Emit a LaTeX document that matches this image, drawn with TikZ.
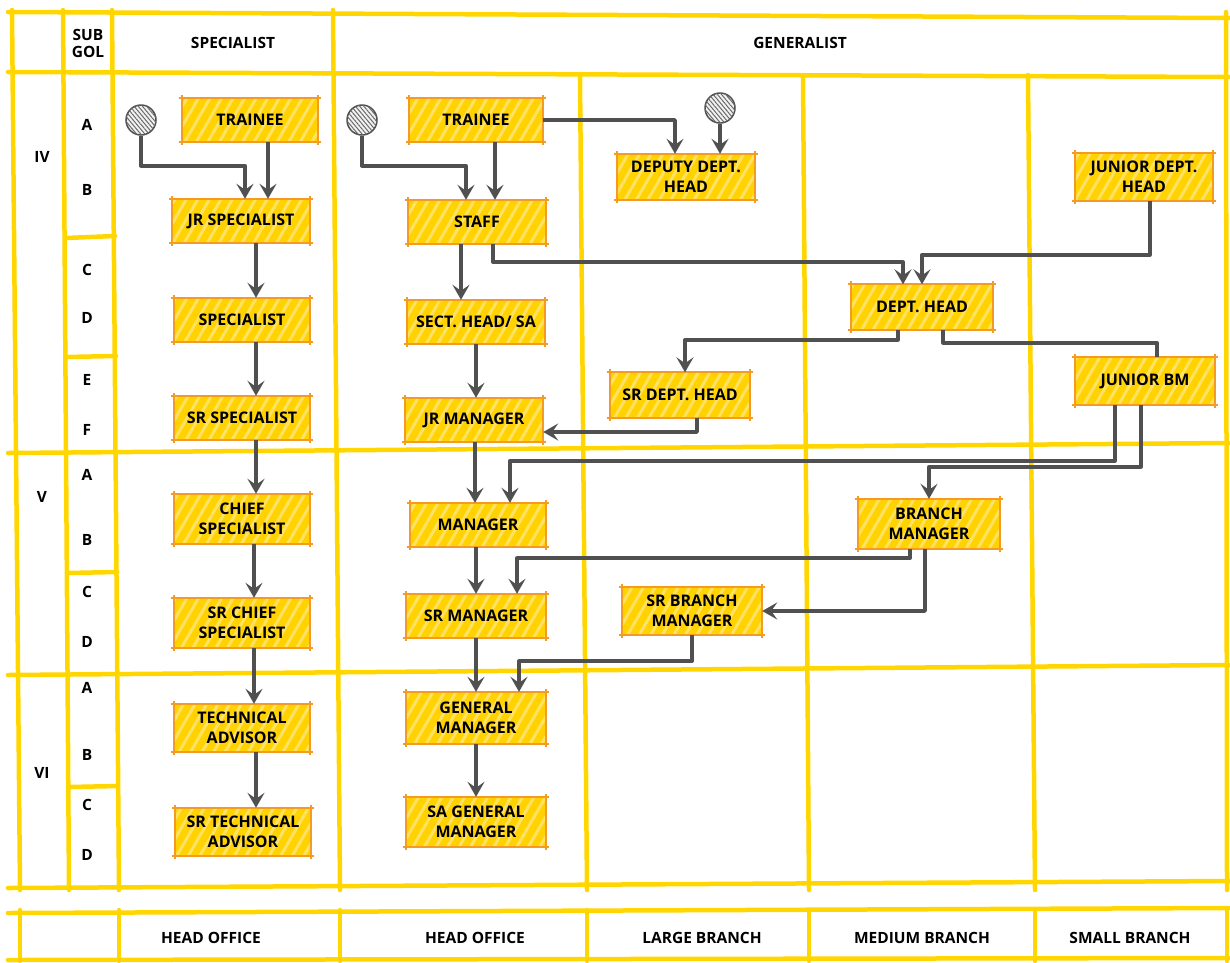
\documentclass[tikz,border=0pt]{standalone}
\usepackage{fontspec}
\setmainfont{Open Sans}
\usetikzlibrary{arrows.meta,patterns.meta}
\definecolor{gridy}{RGB}{255,214,0}
\definecolor{boxfill}{RGB}{255,210,0}
\definecolor{stripe}{RGB}{255,226,100}
\definecolor{boxline}{RGB}{245,155,35}
\definecolor{conn}{RGB}{80,80,80}
\tikzset{
  grid/.style={draw=gridy, line width=4.5pt, line cap=round},
  lbl/.style={font=\bfseries\fontsize{15.5}{19}\selectfont, align=center, text=black},
  sk/.style={draw=boxline, line width=1.8pt, shorten <=-3pt, shorten >=-3pt},
  bw/.style 2 args={minimum width=#1pt, minimum height=#2pt},
  box/.style={fill=boxfill, postaction={pattern={Lines[angle=60,distance=10pt,line width=3pt]}, pattern color=stripe},
    font=\bfseries\fontsize{16}{20}\selectfont, align=center, text=black, inner sep=1pt,
    append after command={(\tikzlastnode.north west) edge[sk] (\tikzlastnode.north east)
      (\tikzlastnode.south west) edge[sk] (\tikzlastnode.south east)
      (\tikzlastnode.north west) edge[sk] (\tikzlastnode.south west)
      (\tikzlastnode.north east) edge[sk] (\tikzlastnode.south east)}},
  startc/.style={circle, minimum size=30pt, inner sep=0pt, fill=gray!10, draw=conn, line width=1.5pt,
    postaction={pattern={Lines[angle=-50,distance=3.2pt,line width=1pt]}, pattern color=conn!85}},
  conn/.style={draw=conn, line width=3.6pt, line join=round, -{Stealth[length=15pt,width=17pt,inset=6pt]}},
  connn/.style={draw=conn, line width=3.6pt, line join=round},
}
\begin{document}
\begin{tikzpicture}[x=1pt,y=-1pt]
\useasboundingbox (0,0) rectangle (1230,962);
% ---------- grid ----------
\draw[grid] (8,12) -- (1229,18);
\draw[grid] (8,72) -- (1229,77);
\draw[grid] (8,453) -- (1229,443);
\draw[grid] (8,675) -- (1229,665);
\draw[grid] (8,888) -- (1229,881);
\draw[grid] (8,913) -- (1229,908);
\draw[grid] (8,960) -- (1229,958);
% vertical lines
\draw[grid] (12,10) -- (20,890);
\draw[grid] (63,10) -- (69,890);
\draw[grid] (112,10) -- (119,890);
\draw[grid] (333,10) -- (340,890);
\draw[grid] (580,75) -- (587,890);
\draw[grid] (803,75) -- (809,890);
\draw[grid] (1028,75) -- (1035,890);
\draw[grid] (1226,12) -- (1227,890);
% sub gol dividers
\draw[grid] (66,238) -- (115,236);
\draw[grid] (66,357) -- (116,356);
\draw[grid] (67,573) -- (117,572);
\draw[grid] (68,787) -- (118,786);
% footer verticals
\foreach \x in {20,119,340,587,809,1035,1227} \draw[grid] (\x,910) -- (\x,961);
% ---------- header / labels ----------
\node[lbl] (hsub) at (88,43) {SUB\\[-2pt]GOL};
\node[lbl] (hspec) at (233,43) {SPECIALIST};
\node[lbl] (hgen) at (800,43) {GENERALIST};
\node[lbl] (r4) at (42,157) {IV};
\node[lbl] (r5) at (42,497) {V};
\node[lbl] (r6) at (42,773) {VI};
\foreach \t/\y [count=\i] in {A/125,B/190,C/270,D/318,E/380,F/430,A/475,B/540,C/592,D/642,A/688,B/755,C/805,D/855}
  \node[lbl] (sg\i) at (87,\y) {\t};
\node[lbl] (f1) at (211,938) {HEAD OFFICE};
\node[lbl] (f2) at (475,938) {HEAD OFFICE};
\node[lbl] (f3) at (702,938) {LARGE BRANCH};
\node[lbl] (f4) at (922,938) {MEDIUM BRANCH};
\node[lbl] (f5) at (1130,938) {SMALL BRANCH};
% ---------- specialist column ----------
\node[startc] (c1) at (141,120) {};
\node[box,bw={136}{44}] (sTr) at (250,120) {TRAINEE};
\node[box,bw={137}{44}] (sJr) at (241,221) {JR SPECIALIST};
\node[box,bw={135}{44}] (sSp) at (242,320) {SPECIALIST};
\node[box,bw={135}{44}] (sSr) at (242,418) {SR SPECIALIST};
\node[box,bw={135}{50}] (sCh) at (242,519) {CHIEF\\SPECIALIST};
\node[box,bw={135}{50}] (sSc) at (242,623) {SR CHIEF\\SPECIALIST};
\node[box,bw={135}{48}] (sTa) at (242,728) {TECHNICAL\\ADVISOR};
\node[box,bw={136}{48}] (sSt) at (243,832) {SR TECHNICAL\\ADVISOR};
% ---------- generalist head office ----------
\node[startc] (c2) at (362,120) {};
\node[box,bw={133}{44}] (gTr) at (476,120) {TRAINEE};
\node[box,bw={137}{44}] (gSt) at (477,222) {STAFF};
\node[box,bw={138}{44}] (gSe) at (476,322) {SECT. HEAD/ SA};
\node[box,bw={138}{44}] (gJr) at (474,420) {JR MANAGER};
\node[box,bw={136}{44}] (gMa) at (478,525) {MANAGER};
\node[box,bw={139}{44}] (gSm) at (476,616) {SR MANAGER};
\node[box,bw={139}{52}] (gGm) at (476,718) {GENERAL\\MANAGER};
\node[box,bw={139}{50}] (gSa) at (476,822) {SA GENERAL\\MANAGER};
% ---------- large branch ----------
\node[startc] (c3) at (720,108) {};
\node[box,bw={137}{46}] (lDd) at (686,177) {DEPUTY DEPT.\\HEAD};
\node[box,bw={140}{45}] (lSd) at (680,395) {SR DEPT. HEAD};
\node[box,bw={140}{48}] (lSb) at (692,611) {SR BRANCH\\MANAGER};
% ---------- medium branch ----------
\node[box,bw={141}{45}] (mDh) at (922,307) {DEPT. HEAD};
\node[box,bw={142}{50}] (mBm) at (929,524) {BRANCH\\MANAGER};
% ---------- small branch ----------
\node[box,bw={138}{47}] (sJd) at (1144,177) {JUNIOR DEPT.\\HEAD};
\node[box,bw={140}{47}] (sJb) at (1145,381) {JUNIOR BM};
% ---------- connectors ----------
\draw[conn] (c1.south) -- ++(0,30) -| ([xshift=4pt]sJr.north);
\draw[conn] ([xshift=18pt]sTr.south) -- ([xshift=18pt]sTr.south |- sJr.north);
\draw[conn] ([xshift=15pt]sJr.south) -- ([xshift=15pt]sJr.south |- sSp.north);
\draw[conn] ([xshift=14pt]sSp.south) -- ([xshift=14pt]sSp.south |- sSr.north);
\draw[conn] ([xshift=14pt]sSr.south) -- ([xshift=14pt]sSr.south |- sCh.north);
\draw[conn] ([xshift=12pt]sCh.south) -- ([xshift=12pt]sCh.south |- sSc.north);
\draw[conn] ([xshift=12pt]sSc.south) -- ([xshift=12pt]sSc.south |- sTa.north);
\draw[conn] ([xshift=14pt]sTa.south) -- ([xshift=14pt]sTa.south |- sSt.north);
\draw[conn] (c2.south) -- ++(0,30) -| ([xshift=-11pt]gSt.north);
\draw[conn] ([xshift=19pt]gTr.south) -- ([xshift=19pt]gTr.south |- gSt.north);
\draw[conn] (gTr.east) -| ([xshift=-11pt]lDd.north);
\draw[conn] (c3.south) -- (c3.south |- lDd.north);
\draw[conn] ([xshift=-16pt]gSt.south) -- ([xshift=-16pt]gSt.south |- gSe.north);
\draw[conn] ([xshift=16pt]gSt.south) -- ++(0,18) -| ([xshift=-19pt]mDh.north);
\draw[conn] ([xshift=6pt]sJd.south) -- ++(0,54) -| (mDh.north);
\draw[conn] (gSe.south) -- (gSe.south |- gJr.north);
\draw[conn] ([xshift=-24pt]mDh.south) -- ++(0,10) -| ([xshift=5pt]lSd.north);
\draw[connn] ([xshift=21pt]mDh.south) -- ++(0,13) -| ([xshift=12pt]sJb.north);
\draw[conn] ([xshift=17pt]lSd.south) |- ([yshift=-12pt]gJr.east);
\draw[conn] ([xshift=1pt]gJr.south) -- ([xshift=1pt]gJr.south |- gMa.north);
\draw[conn] ([xshift=-30pt]sJb.south) -- ++(0,56) -| ([xshift=32pt]gMa.north);
\draw[conn] ([xshift=-4pt]sJb.south) -- ++(0,62) -| (mBm.north);
\draw[conn] ([xshift=-19pt]mBm.south) -- ++(0,9) -| ([xshift=41pt]gSm.north);
\draw[conn] ([xshift=-4pt]mBm.south) |- (lSb.east);
\draw[conn] ([xshift=-2pt]gMa.south) -- ([xshift=-2pt]gMa.south |- gSm.north);
\draw[conn] (gSm.south) -- (gSm.south |- gGm.north);
\draw[conn] (lSb.south) -- ++(0,26) -| ([xshift=43pt]gGm.north);
\draw[conn] (gGm.south) -- (gGm.south |- gSa.north);
\end{tikzpicture}
\end{document}
